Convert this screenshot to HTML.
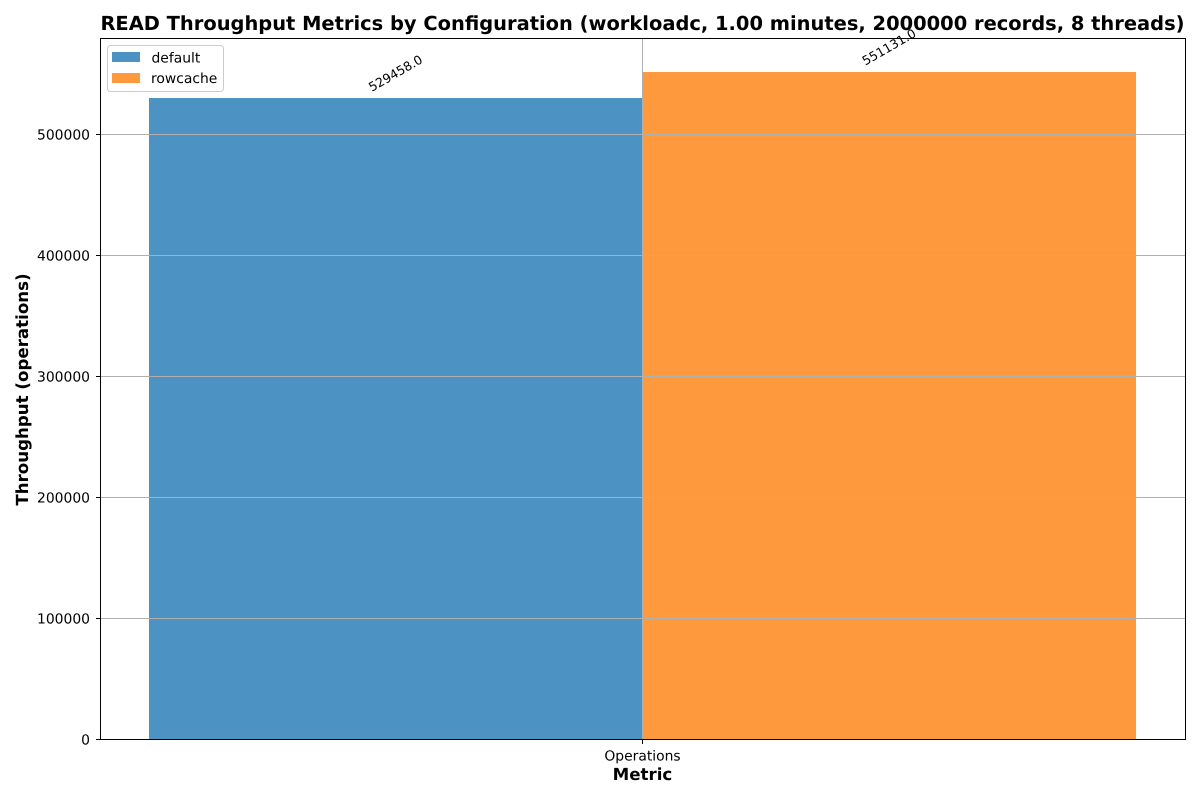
<!DOCTYPE html>
<html>
<head>
<meta charset="utf-8">
<title>READ Throughput Metrics</title>
<style>
html,body{margin:0;padding:0;background:#fff;}
svg{display:block;font-family:"DejaVu Sans","Liberation Sans",sans-serif;text-rendering:geometricPrecision;}
</style>
</head>
<body>
<svg id="chart" xmlns="http://www.w3.org/2000/svg" width="1200" height="800" viewBox="0 0 1200 800">
<rect x="0" y="0" width="1200" height="800" fill="#ffffff"/>
<text x="642.5" y="30" text-anchor="middle" font-size="19.44" font-weight="bold" fill="#000">READ Throughput Metrics by Configuration (workloadc, 1.00 minutes, 2000000 records, 8 threads)</text>
<g id="bars" shape-rendering="crispEdges"></g>
<g id="grid" shape-rendering="crispEdges"></g>
<g id="labels"></g>
<g id="ticks"></g>
<rect x="100.5" y="38.5" width="1085" height="701" fill="none" stroke="#000" stroke-width="1" shape-rendering="crispEdges"/>
<text x="642.5" y="780" text-anchor="middle" font-size="16.67" font-weight="bold" fill="#000">Metric</text>
<text transform="translate(28 389.5) rotate(-90)" text-anchor="middle" font-size="16.67" font-weight="bold" fill="#000">Throughput (operations)</text>
<g id="legend">
<rect x="107.5" y="45.5" width="116" height="46" rx="3" ry="3" fill="#ffffff" fill-opacity="0.8" stroke="#cccccc" stroke-width="1"/>
<rect x="112" y="52" width="28" height="10" fill="#1f77b4" fill-opacity="0.8"/>
<text x="151.5" y="62.5" font-size="13.89" fill="#000">default</text>
<rect x="112" y="73" width="28" height="10" fill="#ff7f0e" fill-opacity="0.8"/>
<text x="151" y="83" font-size="13.89" fill="#000">rowcache</text>
</g>
</svg>
<script>
const categories = ['Operations'];
const seriesNames = ['default', 'rowcache'];
const seriesValues = [[529458.0], [551131.0]];
const seriesColors = ['#1f77b4', '#ff7f0e'];
const yTickValues = [0, 100000, 200000, 300000, 400000, 500000];

const NS = 'http://www.w3.org/2000/svg';
const plot = { left: 100, right: 1185, top: 39, bottom: 740 };
const yMax = Math.max(...seriesValues.flat()) * 1.05;
const barW = 0.5;
const xMin = -barW - 0.05 * 2 * barW;
const xMax = barW + 0.05 * 2 * barW;

function xScale(v) {
  return plot.left + (v - xMin) / (xMax - xMin) * (plot.right - plot.left);
}
function yScale(v) {
  return plot.bottom - v / yMax * (plot.bottom - plot.top);
}
function snapX(v) {
  return Math.round(v - 0.01);
}
function make(tag, attrs, parent, text) {
  const el = document.createElementNS(NS, tag);
  for (const k in attrs) el.setAttribute(k, attrs[k]);
  if (text !== undefined) el.textContent = text;
  parent.appendChild(el);
  return el;
}

const barsG = document.getElementById('bars');
const gridG = document.getElementById('grid');
const labelsG = document.getElementById('labels');
const ticksG = document.getElementById('ticks');

seriesValues.forEach(function (vals, s) {
  vals.forEach(function (v, c) {
    const x0 = snapX(xScale(c + (s - 1) * barW));
    const x1 = snapX(xScale(c + s * barW));
    const top = Math.floor(yScale(v));
    const bar = make('rect', { x: x0, y: top, width: x1 - x0, height: 739 - top, fill: seriesColors[s], 'fill-opacity': 0.8 }, barsG);
    
    
    const cx = (x0 + x1) / 2;
    const cy = yScale(v) - 25.5;
    const label = make('text', { x: cx, y: cy, 'text-anchor': 'middle', 'dominant-baseline': 'central', 'font-size': 12.5, fill: '#000', transform: 'rotate(-30 ' + cx + ' ' + cy + ')' }, labelsG, v.toFixed(1));
    
    
  });
});

yTickValues.forEach(function (t) {
  const y = Math.min(Math.floor(yScale(t)), 739) + 0.5;
  if (t !== 0) {
    const g = make('line', { x1: 100.5, x2: 1185.5, y1: y, y2: y, stroke: '#b0b0b0', 'stroke-width': 1 }, gridG);
    
    
  }
  const tick = make('line', { x1: 96, x2: 100.5, y1: y, y2: y, stroke: '#000', 'stroke-width': 1, 'shape-rendering': 'crispEdges' }, ticksG);
  
  
  const lab = make('text', { x: 90, y: y + 5, 'text-anchor': 'end', 'font-size': 13.89, fill: '#000' }, ticksG, String(t));
  
  
});

categories.forEach(function (cat, c) {
  const x = snapX(xScale(c)) + 0.5;
  const g = make('line', { x1: x, x2: x, y1: 38.5, y2: 739.5, stroke: '#b0b0b0', 'stroke-width': 1 }, gridG);
  
  
  const tick = make('line', { x1: x, x2: x, y1: 739.5, y2: 744, stroke: '#000', 'stroke-width': 1, 'shape-rendering': 'crispEdges' }, ticksG);
  
  
  const lab = make('text', { x: x, y: 760.5, 'text-anchor': 'middle', 'font-size': 13.89, fill: '#000' }, ticksG, cat);
  
  
});
</script>
</body>
</html>
